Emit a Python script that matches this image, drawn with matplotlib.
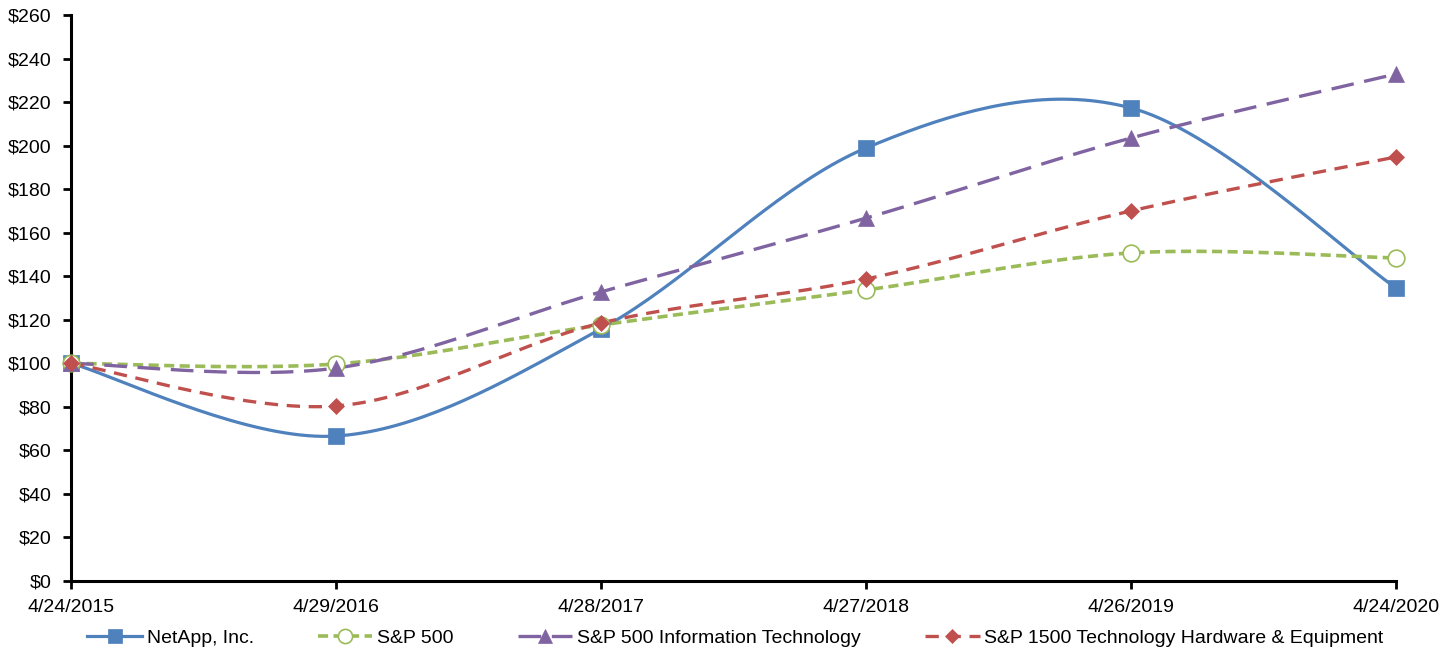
import numpy as np
import matplotlib
matplotlib.use("Agg")
import matplotlib.pyplot as plt
from matplotlib.lines import Line2D

dates = ["4/24/2015", "4/29/2016", "4/28/2017", "4/27/2018", "4/26/2019", "4/24/2020"]
netapp = [100, 66.6, 115.8, 198.9, 217.3, 134.6]
sp500 = [100, 99.7, 117.6, 133.7, 150.7, 148.4]
sp500_it = [100, 97.8, 132.8, 166.7, 203.5, 232.9]
sp1500_hw = [100, 80.4, 118.5, 138.7, 170.0, 194.8]

plt.rcParams['font.family'] = ['Liberation Sans', 'DejaVu Sans']


def smooth(xs, ys, n=40):
    xs = np.asarray(xs, float)
    ys = np.asarray(ys, float)
    px = np.concatenate([[xs[0]], xs, [xs[-1]]])
    py = np.concatenate([[ys[0]], ys, [ys[-1]]])
    outx, outy = [], []
    for i in range(1, len(px) - 2):
        p0 = np.array([px[i], py[i]])
        p3 = np.array([px[i + 1], py[i + 1]])
        c1 = p0 + (np.array([px[i + 1], py[i + 1]]) - np.array([px[i - 1], py[i - 1]])) / 6
        c2 = p3 - (np.array([px[i + 2], py[i + 2]]) - np.array([px[i], py[i]])) / 6
        t = np.linspace(0, 1, n)[:, None]
        pts = (1 - t) ** 3 * p0 + 3 * (1 - t) ** 2 * t * c1 + 3 * (1 - t) * t ** 2 * c2 + t ** 3 * p3
        outx.extend(pts[:, 0])
        outy.extend(pts[:, 1])
    return np.array(outx), np.array(outy)


fig = plt.figure(figsize=(14.55, 6.51), dpi=100)
ax = fig.add_axes([71 / 1455, 1 - 581 / 651, (1396 - 71) / 1455, (581 - 15) / 651])

x = np.arange(len(dates))
series = [
    ("NetApp, Inc.", netapp, "#4F81BD", None, "s", 12, True, 2.3),
    ("S&P 500", sp500, "#9BBB59", (0, (2.8, 1.5)), "o", 12, False, 2.6),
    ("S&P 500 Information Technology", sp500_it, "#8064A2", (0, (6.8, 3.2)), "^", 12, True, 2.4),
    ("S&P 1500 Technology Hardware & Equipment", sp1500_hw, "#C0504D", (0, (4.0, 2.6)), "D", 8.5, True, 2.4),
]

handles = []
for name, ys, col, dash, mk, ms, filled, lw in series:
    sx, sy = smooth(x, ys)
    ls = "-" if dash is None else dash
    ax.plot(sx, sy, color=col, lw=lw, linestyle=ls, clip_on=False, zorder=3)
    mfc = col if filled else "white"
    ax.plot(x, ys, linestyle="none", marker=mk, markersize=ms, markerfacecolor=mfc,
            markeredgecolor=col, markeredgewidth=1.2 if not filled else 0.5, clip_on=False, zorder=4)
    handles.append(Line2D([0], [0], color=col, lw=lw, linestyle=ls, marker=mk, markersize=ms * 0.85,
                          markerfacecolor=mfc, markeredgecolor=col,
                          markeredgewidth=1.2 if not filled else 0.5))

ax.set_xlim(0, 5)
ax.set_ylim(0, 260)
ax.set_yticks(np.arange(0, 261, 20))
ax.set_yticklabels([f"${v}" for v in range(0, 261, 20)])
ax.set_xticks(x)
ax.set_xticklabels(dates)
for s in ["top", "right"]:
    ax.spines[s].set_visible(False)
for s in ["left", "bottom"]:
    ax.spines[s].set_linewidth(2.2)
    ax.spines[s].set_color("black")
ax.tick_params(axis="both", direction="out", length=6, width=2, labelsize=14, colors="black")
ax.tick_params(axis="y", pad=8)
ax.tick_params(axis="x", pad=7)

fig.legend(handles=handles, labels=[s[0] for s in series], loc="center", bbox_to_anchor=(0.5055, 1 - 638 / 651),
           ncol=4, frameon=False, fontsize=14, handlelength=2.8, columnspacing=3.3, handletextpad=0.25,
           borderpad=0, borderaxespad=0)

fig.savefig("out.png", dpi=100)
